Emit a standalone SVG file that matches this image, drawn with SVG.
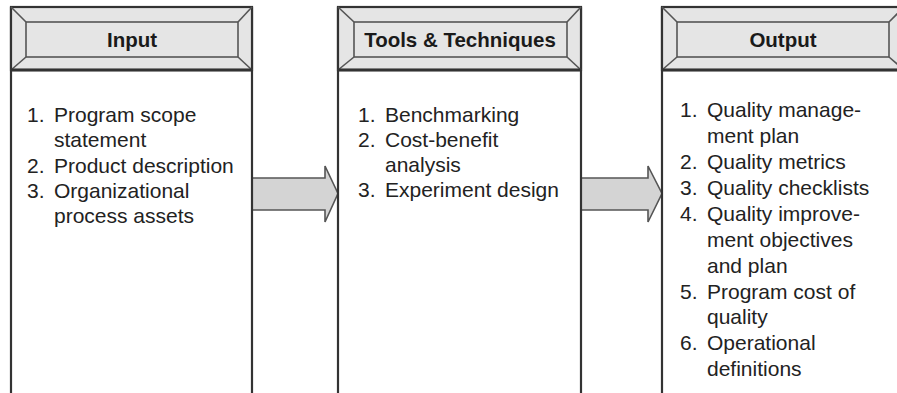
<svg xmlns="http://www.w3.org/2000/svg" width="897" height="393" viewBox="0 0 897 393">
<style>
.body{fill:#ffffff;stroke:none}
.side{stroke:#333;stroke-width:2.2;fill:none}
.hdr{fill:#e5e5e5;stroke:#333;stroke-width:2.2}
.bev{fill:#e5e5e5;stroke:#555;stroke-width:1.6}
.hline{stroke:#333;stroke-width:3}
.ht{font-family:"Liberation Sans",Arial,sans-serif;font-weight:bold;font-size:20.5px;fill:#1a1a1a;text-anchor:middle}
.t{font-family:"Liberation Sans",Arial,sans-serif;font-size:21px;fill:#222}
.arrow{fill:#d4d4d4;stroke:#555;stroke-width:1.6;stroke-linejoin:miter}
</style>
<rect x="0" y="0" width="897" height="393" fill="#ffffff"/>
<g id="connectors">
<polygon class="arrow" points="252,178 325,178 325,166 338,193.5 325,222 325,210 252,210"/>
<polygon class="arrow" points="581,178 648,178 648,166 662,193.5 648,222 648,210 581,210"/>
</g>
<g id="input">
<line class="side" x1="11" y1="7" x2="11" y2="393"/>
<line class="side" x1="252" y1="7" x2="252" y2="393"/>
<rect class="hdr" x="11" y="7" width="241" height="63"/>
<rect class="bev" x="26" y="22" width="212" height="35"/>
<line class="bev" x1="11" y1="7" x2="26" y2="22"/>
<line class="bev" x1="252" y1="7" x2="238" y2="22"/>
<line class="bev" x1="11" y1="70" x2="26" y2="57"/>
<line class="bev" x1="252" y1="70" x2="238" y2="57"/>
<line class="hline" x1="11" y1="70" x2="252" y2="70"/>
<text class="ht" x="132" y="47">Input</text>
<text class="t"><tspan x="27" y="122">1.</tspan><tspan x="54" y="122">Program scope</tspan><tspan x="54" y="147">statement</tspan><tspan x="27" y="173">2.</tspan><tspan x="54" y="173">Product description</tspan><tspan x="27" y="198">3.</tspan><tspan x="54" y="198">Organizational</tspan><tspan x="54" y="223">process assets</tspan></text>
</g>
<g id="tools">
<line class="side" x1="338" y1="7" x2="338" y2="393"/>
<line class="side" x1="581" y1="7" x2="581" y2="393"/>
<rect class="hdr" x="338" y="7" width="243" height="63"/>
<rect class="bev" x="354" y="22" width="213" height="35"/>
<line class="bev" x1="338" y1="7" x2="354" y2="22"/>
<line class="bev" x1="581" y1="7" x2="567" y2="22"/>
<line class="bev" x1="338" y1="70" x2="354" y2="57"/>
<line class="bev" x1="581" y1="70" x2="567" y2="57"/>
<line class="hline" x1="338" y1="70" x2="581" y2="70"/>
<text class="ht" x="460" y="47">Tools &amp; Techniques</text>
<text class="t"><tspan x="358" y="122">1.</tspan><tspan x="385" y="122">Benchmarking</tspan><tspan x="358" y="147">2.</tspan><tspan x="385" y="147">Cost-benefit</tspan><tspan x="385" y="172">analysis</tspan><tspan x="358" y="197">3.</tspan><tspan x="385" y="197">Experiment design</tspan></text>
</g>
<g id="output">
<line class="side" x1="662" y1="7" x2="662" y2="393"/>
<rect class="hdr" x="662" y="7" width="242" height="63"/>
<rect class="bev" x="677" y="22" width="212" height="35"/>
<line class="bev" x1="662" y1="7" x2="677" y2="22"/>
<line class="bev" x1="904" y1="7" x2="889" y2="22"/>
<line class="bev" x1="662" y1="70" x2="677" y2="57"/>
<line class="bev" x1="904" y1="70" x2="889" y2="57"/>
<line class="hline" x1="662" y1="70" x2="904" y2="70"/>
<text class="ht" x="783" y="47">Output</text>
<text class="t"><tspan x="680" y="117">1.</tspan><tspan x="707" y="117">Quality manage-</tspan><tspan x="707" y="143">ment plan</tspan><tspan x="680" y="169">2.</tspan><tspan x="707" y="169">Quality metrics</tspan><tspan x="680" y="195">3.</tspan><tspan x="707" y="195">Quality checklists</tspan><tspan x="680" y="220.5">4.</tspan><tspan x="707" y="220.5">Quality improve-</tspan><tspan x="707" y="246.5">ment objectives</tspan><tspan x="707" y="272.5">and plan</tspan><tspan x="680" y="298.5">5.</tspan><tspan x="707" y="298.5">Program cost of</tspan><tspan x="707" y="324">quality</tspan><tspan x="680" y="350">6.</tspan><tspan x="707" y="350">Operational</tspan><tspan x="707" y="376">definitions</tspan></text>
</g>
</svg>
